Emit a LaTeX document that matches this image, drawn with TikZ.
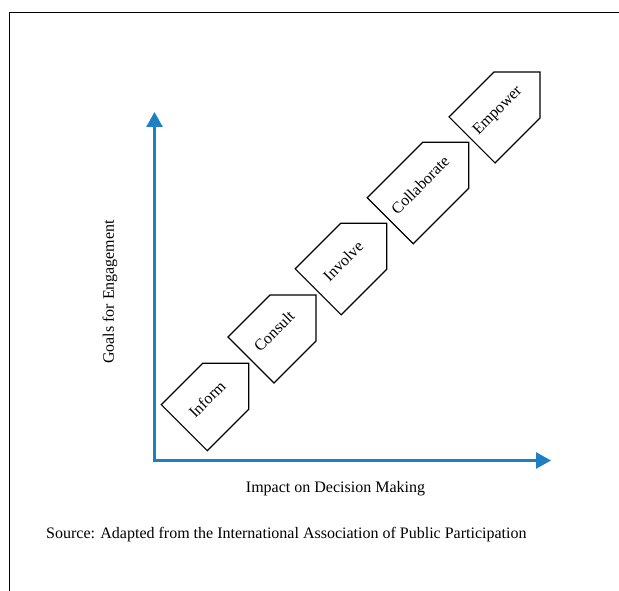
\documentclass[tikz,border=0pt]{standalone}
\usepackage{fontspec}
\setmainfont{Liberation Serif}
\usetikzlibrary{arrows.meta,shapes.symbols}
\definecolor{axisblue}{RGB}{31,127,196}
\newcommand{\stagetext}[1]{\makebox[0pt]{\hspace*{14pt}#1}}

\begin{document}
\begin{tikzpicture}[x=1pt,y=1pt,
    stage/.style={draw,line width=1.2pt,shape=signal,signal to=east,
      signal pointer angle=90,rotate=45,minimum height=65pt,inner sep=2pt,
      text height=11pt,text depth=8pt,font=\fontsize{16}{19}\selectfont},
    axis/.style={draw=axisblue,line width=2.5pt,
      {Triangle[length=15pt,width=16pt]}-{Triangle[length=15pt,width=16pt]}},
    caption/.style={font=\fontsize{16}{19}\selectfont,inner sep=0pt}]
  \useasboundingbox (0,0) rectangle (619,590);

  % frame
  \draw[line width=1pt] (9,-5) -- (9,577) -- (625,577);

  % axes
  \coordinate (origin) at (154.5,129.5);
  \coordinate (ytop) at (154.5,478);
  \coordinate (xend) at (551,129.5);
  \draw[axis] (ytop) -- (origin) -- (xend);

  \node[caption,anchor=base] (xlabel) at (335.5,98) {Impact on Decision Making};
  \node[caption,rotate=90] (ylabel) at (110,298) {Goals for Engagement};
  \node[caption,anchor=base west] (source) at (46,52)
    {Source: Adapted from the International Association of Public Participation};

  % stages
  \node[stage,minimum width=91pt] (inform) at (205,183) {\stagetext{Inform}};
  \node[stage,minimum width=92pt] (consult) at (272,251) {\stagetext{Consult}};
  \node[stage,minimum width=97pt] (involve) at (341,321) {\stagetext{Involve}};
  \node[stage,minimum width=111pt] (collaborate) at (418,397) {\stagetext{Collaborate}};
  \node[stage,minimum width=96pt] (empower) at (494.5,472.5) {\stagetext{Empower}};
\end{tikzpicture}
\end{document}
